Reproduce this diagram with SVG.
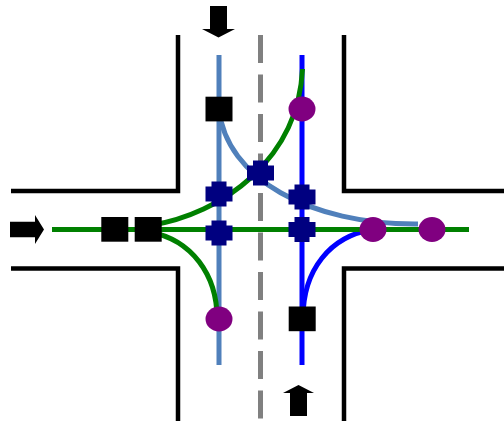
<svg xmlns="http://www.w3.org/2000/svg" width="504" height="424" viewBox="0 0 504 424">
<defs>
<style>
.road{fill:none;stroke:#000;stroke-width:4.5}
.lane{fill:none;stroke-width:5}
.steel{stroke:#5080bb}
.blue{stroke:#00f}
.green{stroke:#008000}
.sq{fill:#000}
.dot{fill:#800080}
.conflict{fill:#000080}
.arrow{fill:#000}
</style>
<path id="cross" d="M-7.500,-12.500H7.500V-7.500H13.500V7.500H7.500V12.500H-7.500V7.500H-13.500V-7.500H-7.500Z"/>
</defs>
<rect width="504" height="424" fill="#fff"/>
<g id="roads">
<path class="road" d="M178,35V191H11"/>
<path class="road" d="M344,35V191H504"/>
<path class="road" d="M11,268.500H178V421"/>
<path class="road" d="M504,268.500H344V421"/>
<path d="M260.500,35V421" fill="none" stroke="#808080" stroke-width="5" stroke-dasharray="28 11.500"/>
</g>
<g id="connectors">
<path class="lane steel" d="M219,55V365"/>
<path class="lane steel" d="M219,109C226,178 310,225 418,224"/>
<path class="lane blue" d="M302,55V365"/>
<path class="lane blue" d="M303,318C303,270 330,236 373,229.500"/>
<path class="lane green" d="M52,229.500H469"/>
<path class="lane green" d="M150,225.500C222,214 298,160 302.500,69"/>
<path class="lane green" d="M150,232C192,240 217,275 217,318"/>
</g>
<g id="arrow-west"><path class="arrow" d="M10,221.700H35V215L44,229.500L35,244V237.300H10Z"/></g>
<g id="arrow-north"><path class="arrow" d="M210,6H227V29H235L218.500,37.500L202,29H210Z"/></g>
<g id="arrow-south"><path class="arrow" d="M290,416V393H283L298.500,385L314,393H307V416Z"/></g>
<g id="square-1"><rect class="sq" x="205.500" y="96.700" width="27" height="24.700"/></g>
<g id="square-2"><rect class="sq" x="101.300" y="217" width="27" height="24.700"/></g>
<g id="square-3"><rect class="sq" x="134.700" y="217" width="27" height="24.700"/></g>
<g id="square-4"><rect class="sq" x="288.700" y="306.500" width="27" height="24.700"/></g>
<g id="dot-1"><ellipse class="dot" cx="302" cy="109" rx="13.500" ry="12.500"/></g>
<g id="dot-2"><ellipse class="dot" cx="219" cy="319" rx="13.500" ry="12.500"/></g>
<g id="dot-3"><ellipse class="dot" cx="373" cy="229.500" rx="13.500" ry="12.500"/></g>
<g id="dot-4"><ellipse class="dot" cx="432" cy="229.500" rx="13.500" ry="12.500"/></g>
<g id="conflict-1"><use class="conflict" href="#cross" x="260.500" y="173"/></g>
<g id="conflict-2"><use class="conflict" href="#cross" x="219" y="194"/></g>
<g id="conflict-3"><use class="conflict" href="#cross" x="219" y="233"/></g>
<g id="conflict-4"><use class="conflict" href="#cross" x="302" y="197"/></g>
<g id="conflict-5"><use class="conflict" href="#cross" x="302" y="229.500"/></g>
</svg>
